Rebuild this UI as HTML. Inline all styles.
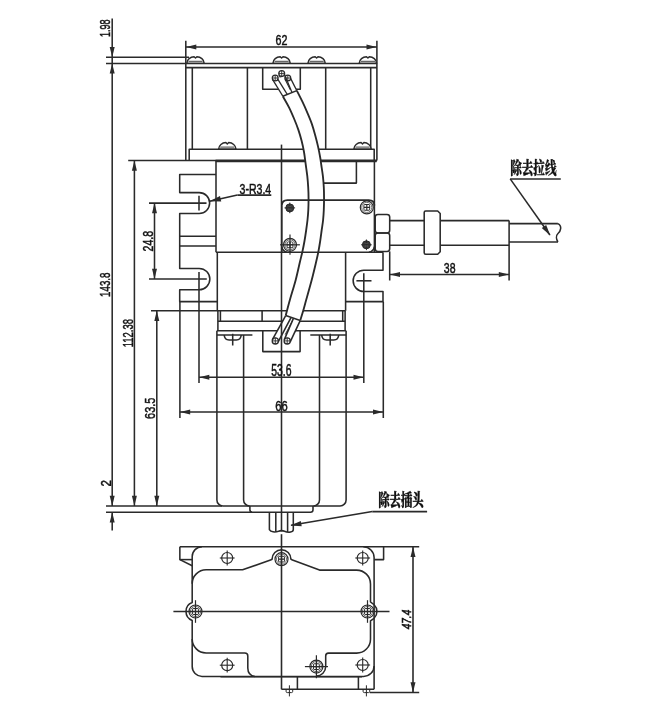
<!DOCTYPE html>
<html lang="zh">
<head>
<meta charset="utf-8">
<title>除去拉线 除去插头</title>
<style>
html,body{margin:0;padding:0;background:#fff;}
body{width:650px;height:717px;overflow:hidden;}
svg{display:block;will-change:transform;filter:grayscale(1);}
svg line,svg path,svg rect,svg circle{stroke:#2a2a2a;stroke-width:1.55;fill:none;stroke-linecap:butt;stroke-linejoin:round;}
svg polygon.a{fill:#2a2a2a;stroke:none;}
svg text.t{font-family:"Liberation Sans","DejaVu Sans",sans-serif;fill:#111;stroke:#111;stroke-width:0.5;}
svg text.c{font-family:"Liberation Serif","Noto Serif CJK SC","Noto Sans CJK SC",serif;font-weight:900;fill:#111;stroke:#111;stroke-width:0.3;}
svg text.bi{font-family:"Liberation Sans","DejaVu Sans",sans-serif;font-style:italic;fill:#111;stroke:#111;stroke-width:0.6;}
</style>
</head>
<body>
<svg width="650" height="717" viewBox="0 0 650 717">
<rect x="0" y="0" width="650" height="717" style="fill:#fff;stroke:none"/>
<line x1="112.2" y1="18.4" x2="112.2" y2="505.9"/>
<line x1="112.2" y1="512.3" x2="112.2" y2="530.4"/>
<polygon class="a" points="112.20,57.30 109.70,47.10 114.70,47.10"/>
<polygon class="a" points="112.20,63.40 114.70,73.60 109.70,73.60"/>
<polygon class="a" points="112.20,505.90 109.70,495.70 114.70,495.70"/>
<polygon class="a" points="112.20,512.30 114.70,522.50 109.70,522.50"/>
<line x1="106" y1="57.3" x2="189" y2="57.3"/>
<line x1="106" y1="63.4" x2="186" y2="63.4"/>
<line x1="106" y1="505.9" x2="222" y2="505.9"/>
<line x1="106" y1="512.3" x2="252" y2="512.3"/>
<text class="t" transform="translate(110.35,37.10) rotate(-90) scale(0.622,1)" font-size="14.55">1.98</text>
<text class="t" transform="translate(110.45,296.90) rotate(-90) scale(0.670,1)" font-size="14.55">143.8</text>
<text class="t" transform="translate(110.90,486.40) rotate(-90) scale(0.765,1)" font-size="15.04">2</text>
<line x1="128.2" y1="160.5" x2="216" y2="160.5"/>
<line x1="134.4" y1="160.5" x2="134.4" y2="505.9"/>
<polygon class="a" points="134.40,160.50 136.90,170.70 131.90,170.70"/>
<polygon class="a" points="134.40,505.90 131.90,495.70 136.90,495.70"/>
<text class="t" transform="translate(132.86,347.20) rotate(-90) scale(0.662,1)" font-size="14.27">112.38</text>
<line x1="151" y1="310.75" x2="218" y2="310.75"/>
<line x1="156.8" y1="310.75" x2="156.8" y2="505.9"/>
<polygon class="a" points="156.80,310.75 159.30,320.95 154.30,320.95"/>
<polygon class="a" points="156.80,505.90 154.30,495.70 159.30,495.70"/>
<text class="t" transform="translate(155.35,418.90) rotate(-90) scale(0.731,1)" font-size="14.97">63.5</text>
<line x1="149" y1="203.1" x2="206.5" y2="203.1"/>
<line x1="149" y1="279" x2="206.8" y2="279"/>
<line x1="154.5" y1="203.1" x2="154.5" y2="279"/>
<polygon class="a" points="154.50,203.10 157.00,213.30 152.00,213.30"/>
<polygon class="a" points="154.50,279.00 152.00,268.80 157.00,268.80"/>
<text class="t" transform="translate(152.85,251.40) rotate(-90) scale(0.704,1)" font-size="14.97">24.8</text>
<line x1="185.8" y1="40.8" x2="185.8" y2="160.4"/>
<path d="M376.9,40.8 V159.6 Q376.9,161.2 375.3,161.2"/>
<line x1="186" y1="46.9" x2="376.9" y2="46.9"/>
<polygon class="a" points="186.10,46.90 196.30,44.40 196.30,49.40"/>
<polygon class="a" points="376.70,46.90 366.50,49.40 366.50,44.40"/>
<text class="t" transform="translate(275.50,45.45) scale(0.702,1)" font-size="15.25">62</text>
<line x1="185.8" y1="63.5" x2="376.9" y2="63.5"/>
<line x1="185.8" y1="67.6" x2="376.9" y2="67.6"/>
<line x1="192.3" y1="67.6" x2="192.3" y2="149.3"/>
<line x1="247.4" y1="67.6" x2="247.4" y2="149.3"/>
<line x1="325.7" y1="67.6" x2="325.7" y2="149.3"/>
<line x1="370.7" y1="67.6" x2="370.7" y2="149.3"/>
<path d="M189.2,160 V149.3 H374.2 V160"/>
<line x1="215.7" y1="160.8" x2="376.6" y2="160.8" style="stroke-width:2.8;"/>
<path d="M186.8,63.2 C187.10000000000002,59.6 190.20000000000002,56.800000000000004 194.1,56.7 L195.5,58.1 L196.9,56.7 C200.8,56.800000000000004 203.9,59.6 204.20000000000002,63.2 Z" style="stroke-width:1.4;fill:#fff;"/>
<line x1="188.4" y1="61.300000000000004" x2="202.60000000000002" y2="61.300000000000004" style="stroke-width:0.9;"/>
<path d="M272.9,63.2 C273.2,59.6 276.29999999999995,56.800000000000004 280.2,56.7 L281.59999999999997,58.1 L282.99999999999994,56.7 C286.9,56.800000000000004 289.99999999999994,59.6 290.29999999999995,63.2 Z" style="stroke-width:1.4;fill:#fff;"/>
<line x1="274.5" y1="61.300000000000004" x2="288.69999999999993" y2="61.300000000000004" style="stroke-width:0.9;"/>
<path d="M307.9,63.2 C308.2,59.6 311.29999999999995,56.800000000000004 315.2,56.7 L316.59999999999997,58.1 L317.99999999999994,56.7 C321.9,56.800000000000004 324.99999999999994,59.6 325.29999999999995,63.2 Z" style="stroke-width:1.4;fill:#fff;"/>
<line x1="309.5" y1="61.300000000000004" x2="323.69999999999993" y2="61.300000000000004" style="stroke-width:0.9;"/>
<path d="M359.2,63.2 C359.5,59.6 362.59999999999997,56.800000000000004 366.5,56.7 L367.9,58.1 L369.29999999999995,56.7 C373.2,56.800000000000004 376.29999999999995,59.6 376.59999999999997,63.2 Z" style="stroke-width:1.4;fill:#fff;"/>
<line x1="360.8" y1="61.300000000000004" x2="374.99999999999994" y2="61.300000000000004" style="stroke-width:0.9;"/>
<path d="M218.6,149.0 C218.9,145.4 222.0,142.6 225.89999999999998,142.5 L227.29999999999998,143.9 L228.7,142.5 C232.6,142.6 235.7,145.4 236.0,149.0 Z" style="stroke-width:1.4;fill:#fff;"/>
<line x1="220.2" y1="147.1" x2="234.4" y2="147.1" style="stroke-width:0.9;"/>
<path d="M353.8,149.0 C354.1,145.4 357.2,142.6 361.1,142.5 L362.5,143.9 L363.9,142.5 C367.8,142.6 370.9,145.4 371.2,149.0 Z" style="stroke-width:1.4;fill:#fff;"/>
<line x1="355.40000000000003" y1="147.1" x2="369.59999999999997" y2="147.1" style="stroke-width:0.9;"/>
<path d="M262.7,67.6 V89.3 H300.3 V67.6"/>
<line x1="281.5" y1="144.6" x2="281.5" y2="161"/>
<line x1="217.3" y1="310.75" x2="345.5" y2="310.75"/>
<line x1="217.9" y1="321.2" x2="345.1" y2="321.2"/>
<line x1="216.9" y1="330.7" x2="346.1" y2="330.7"/>
<line x1="220.4" y1="310.75" x2="220.4" y2="321.2"/>
<line x1="262.1" y1="310.75" x2="262.1" y2="321.2"/>
<line x1="342.7" y1="310.75" x2="342.7" y2="321.2"/>
<line x1="217.9" y1="310.75" x2="217.9" y2="330.7"/>
<line x1="345.1" y1="310.75" x2="345.1" y2="330.7"/>
<line x1="216.9" y1="335" x2="252.4" y2="335"/>
<line x1="310.3" y1="335" x2="346.1" y2="335"/>
<path d="M224.2,335 Q224.5,339.9 229.1,339.9 H236.29999999999998 Q240.89999999999998,339.9 241.2,335"/>
<line x1="232.7" y1="333.8" x2="232.7" y2="345.5"/>
<path d="M321.7,335 Q322.0,339.9 326.59999999999997,339.9 H333.8 Q338.4,339.9 338.7,335"/>
<line x1="330.2" y1="333.8" x2="330.2" y2="345.5"/>
<path d="M262.8,330.7 V351.6 H300.1 V330.7"/>
<path d="M216.9,330.7 V499.9 A6,6 0 0 0 222.9,505.9 H340.1 A6,6 0 0 0 346.1,499.9 V330.7"/>
<path d="M243.6,335 V499.9 A6,6 0 0 0 249.6,505.9"/>
<path d="M319.5,335 V499.9 A6,6 0 0 1 313.5,505.9"/>
<path d="M249.9,505.9 V509.8 Q249.9,512.3 252.4,512.3 H310.5 Q313,512.3 313,509.8 V505.9"/>
<path d="M269.4,512.2 V529.6 Q270.5,531.6 273,531.8 Q275.8,532.2 278.5,531.2 Q281.5,530 284.5,531.2 Q287.6,532.6 290.5,532 Q293.3,531.4 293.3,529.4 V512.2"/>
<line x1="275.8" y1="512.2" x2="275.8" y2="531.8"/>
<line x1="287.6" y1="512.2" x2="287.6" y2="532"/>
<line x1="199" y1="272" x2="199" y2="383"/>
<line x1="363.8" y1="273.3" x2="363.8" y2="383"/>
<line x1="199" y1="377.2" x2="363.8" y2="377.2"/>
<polygon class="a" points="199.10,377.20 209.30,374.70 209.30,379.70"/>
<polygon class="a" points="363.70,377.20 353.50,379.70 353.50,374.70"/>
<line x1="179.9" y1="301.6" x2="179.9" y2="418"/>
<line x1="383.3" y1="301.6" x2="383.3" y2="418"/>
<line x1="179.9" y1="412.0" x2="383.3" y2="412.0"/>
<polygon class="a" points="180.00,412.00 190.20,409.50 190.20,414.50"/>
<polygon class="a" points="383.20,412.00 373.00,414.50 373.00,409.50"/>
<path d="M282.80,96.20 C283.83,98.05 287.13,103.58 289.00,107.30 C290.87,111.02 292.45,114.78 294.00,118.50 C295.55,122.22 297.03,125.88 298.30,129.60 C299.57,133.32 300.65,137.07 301.60,140.80 C302.55,144.53 303.30,147.97 304.00,152.00 C304.70,156.03 305.25,160.97 305.80,165.00 C306.35,169.03 306.90,172.48 307.30,176.20 C307.70,179.92 307.99,183.67 308.20,187.30 C308.41,190.93 308.53,194.22 308.55,198.00 C308.57,201.78 308.48,206.33 308.30,210.00 C308.12,213.67 307.85,216.67 307.50,220.00 C307.15,223.33 306.70,226.50 306.20,230.00 C305.70,233.50 305.15,237.32 304.50,241.00 C303.85,244.68 303.07,248.60 302.30,252.10 C301.53,255.60 301.00,257.35 299.90,262.00 C298.80,266.65 297.38,273.67 295.70,280.00 C294.02,286.33 291.52,294.07 289.85,300.00 C288.18,305.93 286.39,313.00 285.70,315.60 L300.20,320.60 C300.70,318.96 302.21,314.18 303.20,310.75 C304.19,307.32 304.73,305.12 306.15,300.00 C307.57,294.88 310.04,286.33 311.70,280.00 C313.36,273.67 315.00,266.65 316.10,262.00 C317.20,257.35 317.62,255.60 318.30,252.10 C318.98,248.60 319.63,244.68 320.20,241.00 C320.77,237.32 321.22,233.50 321.70,230.00 C322.18,226.50 322.75,223.33 323.10,220.00 C323.45,216.67 323.64,213.67 323.80,210.00 C323.96,206.33 324.05,201.78 324.05,198.00 C324.05,194.22 323.99,190.93 323.80,187.30 C323.61,183.67 323.32,179.92 322.90,176.20 C322.48,172.48 321.75,168.12 321.30,165.00 C320.85,161.88 320.75,160.60 320.20,157.50 C319.65,154.40 318.83,150.12 318.00,146.40 C317.17,142.68 316.22,138.92 315.20,135.20 C314.18,131.48 313.20,127.82 311.90,124.10 C310.60,120.38 308.98,116.63 307.40,112.90 C305.82,109.17 304.17,105.42 302.40,101.70 C300.63,97.98 297.73,92.45 296.80,90.60 Z" style="fill:#fff;stroke:none"/>
<path d="M282.8,96.2 L272.3,79.3 L275,75 L279,74 L281.7,70.5 L285,72 L287.7,75 L290.8,77.5 L296.8,90.6 Z" style="fill:#fff;stroke:none"/>
<path d="M285.7,315.6 L272.2,339.6 L275.3,344.2 L281.2,341 L287.2,344.2 L290.4,341.5 L300.2,320.6 Z" style="fill:#fff;stroke:none"/>
<line x1="216" y1="161" x2="216" y2="252.2"/>
<line x1="217.3" y1="252.2" x2="217.3" y2="310.75"/>
<line x1="216" y1="252.2" x2="383.0" y2="252.2"/>
<line x1="374.4" y1="161" x2="374.4" y2="252.2"/>
<line x1="281.5" y1="161" x2="281.5" y2="531.6"/>
<path d="M356.4,161 V183.1 H323.8"/>
<path d="M281.8,205.6 Q281.8,200.0 287.4,200.0 H368.8 Q374.4,200.0 374.4,205.6" style="stroke-width:1.75;"/>
<line x1="281.8" y1="205.6" x2="281.8" y2="252.2"/>
<path d="M368.9,252.2 Q373.6,251.4 374.4,246.6"/>
<path d="M281.8,246.6 Q282.5,251.4 287.2,252.2"/>
<circle cx="289.8" cy="207.9" r="4.0" style="stroke-width:1.0;fill:#3c3c3c;"/>
<line x1="284.5" y1="207.9" x2="295.1" y2="207.9" style="stroke-width:1.0;"/>
<line x1="289.8" y1="202.6" x2="289.8" y2="213.20000000000002" style="stroke-width:1.0;"/>
<line x1="288.2" y1="209.1" x2="291.40000000000003" y2="209.1" style="stroke-width:0.5;stroke:#777;"/>
<line x1="288.8" y1="206.6" x2="291.0" y2="206.6" style="stroke-width:0.5;stroke:#666;"/>
<circle cx="366.8" cy="207.4" r="6.5" style="stroke-width:1.2;fill:#fff;"/>
<circle cx="366.8" cy="207.4" r="5.07" style="stroke:#555;stroke-width:0.85;fill:none"/>
<rect x="363.40" y="204.00" width="6.8" height="6.8" rx="1.7" style="fill:#2a2a2a;stroke:none"/>
<rect x="364.35" y="204.95" width="1.9" height="1.9" rx="0.3" style="fill:#fff;stroke:none"/>
<rect x="364.35" y="207.95" width="1.9" height="1.9" rx="0.3" style="fill:#fff;stroke:none"/>
<rect x="367.35" y="204.95" width="1.9" height="1.9" rx="0.3" style="fill:#fff;stroke:none"/>
<rect x="367.35" y="207.95" width="1.9" height="1.9" rx="0.3" style="fill:#fff;stroke:none"/>
<circle cx="290.0" cy="244.8" r="6.5" style="stroke-width:1.2;fill:#fff;"/>
<circle cx="290.0" cy="244.8" r="5.07" style="stroke:#555;stroke-width:0.85;fill:none"/>
<rect x="286.60" y="241.40" width="6.8" height="6.8" rx="1.7" style="fill:#2a2a2a;stroke:none"/>
<rect x="287.55" y="242.35" width="1.9" height="1.9" rx="0.3" style="fill:#fff;stroke:none"/>
<rect x="287.55" y="245.35" width="1.9" height="1.9" rx="0.3" style="fill:#fff;stroke:none"/>
<rect x="290.55" y="242.35" width="1.9" height="1.9" rx="0.3" style="fill:#fff;stroke:none"/>
<rect x="290.55" y="245.35" width="1.9" height="1.9" rx="0.3" style="fill:#fff;stroke:none"/>
<line x1="290.0" y1="234.4" x2="290.0" y2="254.7" style="stroke-width:1.2;"/>
<line x1="280.1" y1="244.8" x2="299.9" y2="244.8" style="stroke-width:1.2;"/>
<circle cx="366.4" cy="244.8" r="4.0" style="stroke-width:1.0;fill:#3c3c3c;"/>
<line x1="361.09999999999997" y1="244.8" x2="371.7" y2="244.8" style="stroke-width:1.0;"/>
<line x1="366.4" y1="239.5" x2="366.4" y2="250.10000000000002" style="stroke-width:1.0;"/>
<line x1="364.79999999999995" y1="246.0" x2="368.0" y2="246.0" style="stroke-width:0.5;stroke:#777;"/>
<line x1="365.4" y1="243.5" x2="367.59999999999997" y2="243.5" style="stroke-width:0.5;stroke:#666;"/>
<path d="M377.9,214.4 H387 Q389.7,214.4 389.7,217.1 V230.20000000000002 Q389.7,232.9 387,232.9 H377.9 Q375.2,232.9 375.2,230.20000000000002 V217.1 Q375.2,214.4 377.9,214.4 Z"/>
<path d="M377.9,232.9 H387 Q389.7,232.9 389.7,235.6 V248.70000000000002 Q389.7,251.4 387,251.4 H377.9 Q375.2,251.4 375.2,248.70000000000002 V235.6 Q375.2,232.9 377.9,232.9 Z"/>
<line x1="389.7" y1="220.6" x2="424.2" y2="220.6"/>
<line x1="440.2" y1="220.6" x2="509.1" y2="220.6"/>
<line x1="389.7" y1="245.2" x2="424.2" y2="245.2"/>
<line x1="440.2" y1="245.2" x2="509.1" y2="245.2"/>
<path d="M425.7,211 H437.7 L440.2,213.5 V251.8 L437.7,254.3 H425.7 Q424.2,254.3 424.2,252.8 V212.5 Q424.2,211 425.7,211 Z"/>
<line x1="509.1" y1="220.6" x2="509.1" y2="280.5"/>
<line x1="509.1" y1="223.6" x2="557.9" y2="223.6"/>
<line x1="509.1" y1="242.0" x2="557.9" y2="242.0"/>
<path d="M557.9,223.6 C562.6,226 560.5,231.5 558,233.5 C555.6,235.6 556.4,239.5 557.9,242.0"/>
<line x1="389.7" y1="251.4" x2="389.7" y2="280.5"/>
<line x1="389.7" y1="274.5" x2="509.1" y2="274.5"/>
<polygon class="a" points="389.80,274.50 400.00,272.00 400.00,277.00"/>
<polygon class="a" points="509.00,274.50 498.80,277.00 498.80,272.00"/>
<text class="t" transform="translate(443.80,272.95) scale(0.703,1)" font-size="14.97">38</text>
<path d="M216,174.5 H179.7 V192.6 H199.2 A10.45,10.45 0 0 1 199.2,213.5 H179.7 V268.4 H199.2 A10.65,10.65 0 0 1 199.2,289.7 H179.7 V301.6 H217.3"/>
<line x1="179.7" y1="236.3" x2="216" y2="236.3"/>
<line x1="179.7" y1="246" x2="216" y2="246"/>
<line x1="199" y1="195.7" x2="199" y2="210.5"/>
<path d="M383.0,252.2 V270.2 H363.8 A10.65,10.65 0 0 0 363.8,291.5 H383.0 V301.6 H345.5"/>
<line x1="345.6" y1="252.2" x2="345.6" y2="310.75"/>
<line x1="356.4" y1="280.8" x2="371.5" y2="280.8"/>
<line x1="209.6" y1="201.2" x2="237.4" y2="195.1"/>
<line x1="237.4" y1="195.1" x2="271.3" y2="195.1"/>
<polygon class="a" points="209.50,201.30 220.03,196.12 221.24,201.59"/>
<text class="t" transform="translate(239.50,193.55) scale(0.701,1)" font-size="15.11">3-R3.4</text>
<text class="t" transform="translate(271.20,375.84) scale(0.665,1)" font-size="15.68">53.6</text>
<text class="t" transform="translate(275.30,410.84) scale(0.718,1)" font-size="15.54">66</text>
<path d="M282.80,96.20 C283.83,98.05 287.13,103.58 289.00,107.30 C290.87,111.02 292.45,114.78 294.00,118.50 C295.55,122.22 297.03,125.88 298.30,129.60 C299.57,133.32 300.65,137.07 301.60,140.80 C302.55,144.53 303.30,147.97 304.00,152.00 C304.70,156.03 305.25,160.97 305.80,165.00 C306.35,169.03 306.90,172.48 307.30,176.20 C307.70,179.92 307.99,183.67 308.20,187.30 C308.41,190.93 308.53,194.22 308.55,198.00 C308.57,201.78 308.48,206.33 308.30,210.00 C308.12,213.67 307.85,216.67 307.50,220.00 C307.15,223.33 306.70,226.50 306.20,230.00 C305.70,233.50 305.15,237.32 304.50,241.00 C303.85,244.68 303.07,248.60 302.30,252.10 C301.53,255.60 301.00,257.35 299.90,262.00 C298.80,266.65 297.38,273.67 295.70,280.00 C294.02,286.33 291.52,294.07 289.85,300.00 C288.18,305.93 286.39,313.00 285.70,315.60" style="stroke-width:1.85;"/>
<path d="M296.80,90.60 C297.73,92.45 300.63,97.98 302.40,101.70 C304.17,105.42 305.82,109.17 307.40,112.90 C308.98,116.63 310.60,120.38 311.90,124.10 C313.20,127.82 314.18,131.48 315.20,135.20 C316.22,138.92 317.17,142.68 318.00,146.40 C318.83,150.12 319.65,154.40 320.20,157.50 C320.75,160.60 320.85,161.88 321.30,165.00 C321.75,168.12 322.48,172.48 322.90,176.20 C323.32,179.92 323.61,183.67 323.80,187.30 C323.99,190.93 324.05,194.22 324.05,198.00 C324.05,201.78 323.96,206.33 323.80,210.00 C323.64,213.67 323.45,216.67 323.10,220.00 C322.75,223.33 322.18,226.50 321.70,230.00 C321.22,233.50 320.77,237.32 320.20,241.00 C319.63,244.68 318.98,248.60 318.30,252.10 C317.62,255.60 317.20,257.35 316.10,262.00 C315.00,266.65 313.36,273.67 311.70,280.00 C310.04,286.33 307.57,294.88 306.15,300.00 C304.73,305.12 304.19,307.32 303.20,310.75 C302.21,314.18 300.70,318.96 300.20,320.60" style="stroke-width:1.85;"/>
<line x1="285.7" y1="315.6" x2="300.2" y2="320.6"/>
<line x1="282.8" y1="96.2" x2="296.8" y2="90.6"/>
<circle cx="275.2" cy="78" r="2.9" style="stroke-width:1.3;"/>
<line x1="272.3" y1="78" x2="278.09999999999997" y2="78" style="stroke-width:0.9;"/>
<line x1="275.2" y1="75.1" x2="275.2" y2="80.9" style="stroke-width:0.9;"/>
<circle cx="281.7" cy="73.6" r="2.9" style="stroke-width:1.3;"/>
<line x1="278.8" y1="73.6" x2="284.59999999999997" y2="73.6" style="stroke-width:0.9;"/>
<line x1="281.7" y1="70.69999999999999" x2="281.7" y2="76.5" style="stroke-width:0.9;"/>
<circle cx="287.8" cy="78" r="2.9" style="stroke-width:1.3;"/>
<line x1="284.90000000000003" y1="78" x2="290.7" y2="78" style="stroke-width:0.9;"/>
<line x1="287.8" y1="75.1" x2="287.8" y2="80.9" style="stroke-width:0.9;"/>
<line x1="272.5" y1="79.4" x2="282.8" y2="96.2" style="stroke-width:1.25;"/>
<line x1="277.9" y1="79.4" x2="287.4" y2="94.6" style="stroke-width:1.25;"/>
<line x1="279.0" y1="75.0" x2="280.4" y2="77.6" style="stroke-width:1.1;"/>
<line x1="284.5" y1="74.4" x2="292.0" y2="92.4" style="stroke-width:1.25;"/>
<line x1="285.2" y1="79.6" x2="290.3" y2="89.7" style="stroke-width:1.1;"/>
<line x1="290.6" y1="78.4" x2="296.8" y2="90.6" style="stroke-width:1.25;"/>
<circle cx="275.3" cy="340.9" r="3.1" style="stroke-width:1.3;"/>
<line x1="272.2" y1="340.9" x2="278.40000000000003" y2="340.9" style="stroke-width:0.9;"/>
<line x1="275.3" y1="337.79999999999995" x2="275.3" y2="344.0" style="stroke-width:0.9;"/>
<circle cx="287.2" cy="340.9" r="3.1" style="stroke-width:1.3;"/>
<line x1="284.09999999999997" y1="340.9" x2="290.3" y2="340.9" style="stroke-width:0.9;"/>
<line x1="287.2" y1="337.79999999999995" x2="287.2" y2="344.0" style="stroke-width:0.9;"/>
<line x1="285.7" y1="315.6" x2="272.4" y2="339.6"/>
<line x1="291.0" y1="317.6" x2="278.3" y2="341.6"/>
<line x1="293.3" y1="318.6" x2="284.3" y2="339.6"/>
<line x1="300.2" y1="320.6" x2="290.2" y2="341.8"/>
<line x1="292.6" y1="320.4" x2="285.2" y2="334.6" style="stroke-width:0.9;"/>
<text class="c" transform="translate(510.20,173.91) scale(0.684,1)" font-size="16.93">除去拉线</text>
<line x1="510.2" y1="178.9" x2="560.8" y2="178.9"/>
<line x1="510.2" y1="178.9" x2="549.9" y2="235.0"/>
<polygon class="a" points="550.30,235.50 541.75,228.07 546.17,224.96"/>
<text class="c" transform="translate(378.20,506.04) scale(0.657,1)" font-size="17.32">除去插头</text>
<line x1="372.3" y1="511.6" x2="427.1" y2="511.6"/>
<line x1="372.3" y1="511.6" x2="291" y2="525.3"/>
<polygon class="a" points="290.40,525.40 300.80,520.90 301.70,526.23"/>
<line x1="179.85" y1="546.8" x2="419.2" y2="546.8" style="stroke-width:1.5;"/>
<path d="M179.85,546.8 V559.6 L192.2,565.8"/>
<line x1="179.85" y1="559.6" x2="192.2" y2="559.6"/>
<path d="M374.1,559.6 H383.6 V546.8"/>
<path d="M202.0,546.8 A9.8,9.8 0 0 0 192.2,556.5999999999999 V602.6 A9.5,9.5 0 0 0 192.2,620.4 V666.6 A9.8,9.8 0 0 0 202.0,676.4 H363.6 A10.5,10.5 0 0 0 374.1,665.9"/>
<path d="M374.1,689.2 V557.5999999999999 A10.8,10.8 0 0 0 363.3,546.8"/>
<path d="M374.1,604.7 A9.46,9.46 0 0 1 374.1,618.2"/>
<path d="M192.2,583.7 A13.9,13.9 0 0 1 206.1,569.8 H242.6 L271.2,559.8 Q272.2,559.5 272.05,558.6"/>
<path d="M290.95,558.6 Q290.8,559.5 291.8,559.8 L319.5,570.1 H356.6 A13.9,13.9 0 0 1 370.5,584 V602 L374.0,604.6"/>
<path d="M374.0,618.3 L370.5,620.8 V639.2 A13.9,13.9 0 0 1 356.6,653.1 H328.5 Q325.7,653.1 325.7,655.9 V666.6 A9.4,9.4 0 0 1 316.3,676"/>
<path d="M192.2,639.0 A13.9,13.9 0 0 0 206.1,652.9 H244.8 Q247.8,652.9 247.8,655.9 V668 Q247.9,675.6 254.9,676.4"/>
<circle cx="227.2" cy="558" r="5.5" style="stroke-width:1.2;"/>
<line x1="219.79999999999998" y1="558" x2="234.6" y2="558" style="stroke-width:1.1;"/>
<line x1="227.2" y1="550.6" x2="227.2" y2="565.4" style="stroke-width:1.1;"/>
<circle cx="227.2" cy="665.2" r="5.5" style="stroke-width:1.2;"/>
<line x1="219.79999999999998" y1="665.2" x2="234.6" y2="665.2" style="stroke-width:1.1;"/>
<line x1="227.2" y1="657.8000000000001" x2="227.2" y2="672.6" style="stroke-width:1.1;"/>
<circle cx="362.7" cy="558" r="5.5" style="stroke-width:1.2;"/>
<line x1="355.3" y1="558" x2="370.09999999999997" y2="558" style="stroke-width:1.1;"/>
<line x1="362.7" y1="550.6" x2="362.7" y2="565.4" style="stroke-width:1.1;"/>
<circle cx="362.7" cy="665" r="5.5" style="stroke-width:1.2;"/>
<line x1="355.3" y1="665" x2="370.09999999999997" y2="665" style="stroke-width:1.1;"/>
<line x1="362.7" y1="657.6" x2="362.7" y2="672.4" style="stroke-width:1.1;"/>
<path d="M272.05,559.15 A9.45,9.45 0 0 1 290.95,559.15"/>
<circle cx="281.5" cy="559.15" r="6.5" style="stroke-width:1.2;fill:#fff;"/>
<circle cx="281.5" cy="559.15" r="5.07" style="stroke:#555;stroke-width:0.85;fill:none"/>
<rect x="278.10" y="555.75" width="6.8" height="6.8" rx="1.7" style="fill:#2a2a2a;stroke:none"/>
<rect x="279.05" y="556.70" width="1.9" height="1.9" rx="0.3" style="fill:#fff;stroke:none"/>
<rect x="279.05" y="559.70" width="1.9" height="1.9" rx="0.3" style="fill:#fff;stroke:none"/>
<rect x="282.05" y="556.70" width="1.9" height="1.9" rx="0.3" style="fill:#fff;stroke:none"/>
<rect x="282.05" y="559.70" width="1.9" height="1.9" rx="0.3" style="fill:#fff;stroke:none"/>
<circle cx="195.5" cy="611.5" r="6.5" style="stroke-width:1.2;fill:#fff;"/>
<circle cx="195.5" cy="611.5" r="5.07" style="stroke:#555;stroke-width:0.85;fill:none"/>
<rect x="192.10" y="608.10" width="6.8" height="6.8" rx="1.7" style="fill:#2a2a2a;stroke:none"/>
<rect x="193.05" y="609.05" width="1.9" height="1.9" rx="0.3" style="fill:#fff;stroke:none"/>
<rect x="193.05" y="612.05" width="1.9" height="1.9" rx="0.3" style="fill:#fff;stroke:none"/>
<rect x="196.05" y="609.05" width="1.9" height="1.9" rx="0.3" style="fill:#fff;stroke:none"/>
<rect x="196.05" y="612.05" width="1.9" height="1.9" rx="0.3" style="fill:#fff;stroke:none"/>
<line x1="195.5" y1="600.2" x2="195.5" y2="622.8" style="stroke-width:1.2;"/>
<circle cx="367.5" cy="611.5" r="6.5" style="stroke-width:1.2;fill:#fff;"/>
<circle cx="367.5" cy="611.5" r="5.07" style="stroke:#555;stroke-width:0.85;fill:none"/>
<rect x="364.10" y="608.10" width="6.8" height="6.8" rx="1.7" style="fill:#2a2a2a;stroke:none"/>
<rect x="365.05" y="609.05" width="1.9" height="1.9" rx="0.3" style="fill:#fff;stroke:none"/>
<rect x="365.05" y="612.05" width="1.9" height="1.9" rx="0.3" style="fill:#fff;stroke:none"/>
<rect x="368.05" y="609.05" width="1.9" height="1.9" rx="0.3" style="fill:#fff;stroke:none"/>
<rect x="368.05" y="612.05" width="1.9" height="1.9" rx="0.3" style="fill:#fff;stroke:none"/>
<line x1="367.5" y1="600.2" x2="367.5" y2="622.8" style="stroke-width:1.2;"/>
<circle cx="316.4" cy="666.6" r="6.5" style="stroke-width:1.2;fill:#fff;"/>
<circle cx="316.4" cy="666.6" r="5.07" style="stroke:#555;stroke-width:0.85;fill:none"/>
<rect x="313.00" y="663.20" width="6.8" height="6.8" rx="1.7" style="fill:#2a2a2a;stroke:none"/>
<rect x="313.95" y="664.15" width="1.9" height="1.9" rx="0.3" style="fill:#fff;stroke:none"/>
<rect x="313.95" y="667.15" width="1.9" height="1.9" rx="0.3" style="fill:#fff;stroke:none"/>
<rect x="316.95" y="664.15" width="1.9" height="1.9" rx="0.3" style="fill:#fff;stroke:none"/>
<rect x="316.95" y="667.15" width="1.9" height="1.9" rx="0.3" style="fill:#fff;stroke:none"/>
<line x1="304.9" y1="666.6" x2="328" y2="666.6" style="stroke-width:1.2;"/>
<line x1="316.4" y1="655.2" x2="316.4" y2="678.3" style="stroke-width:1.2;"/>
<line x1="220.5" y1="676.9" x2="362" y2="676.9" style="stroke-width:1.3;"/>
<line x1="173.4" y1="611.5" x2="389.5" y2="611.5" style="stroke-width:1.3;"/>
<line x1="281.5" y1="534.2" x2="281.5" y2="689.4" style="stroke-width:1.6;"/>
<line x1="281.5" y1="689.2" x2="374.1" y2="689.2"/>
<line x1="297.4" y1="676.4" x2="297.4" y2="689.2"/>
<line x1="358.4" y1="676.4" x2="358.4" y2="689.2"/>
<path d="M286.09999999999997,689.2 V691.4 Q286.09999999999997,692.6 287.29999999999995,692.6 H291.5 Q292.7,692.6 292.7,691.4 V689.2" style="stroke-width:1.0;"/>
<line x1="289.4" y1="685.3" x2="289.4" y2="696.4" style="stroke-width:1.0;"/>
<path d="M363.09999999999997,689.2 V691.4 Q363.09999999999997,692.6 364.29999999999995,692.6 H368.5 Q369.7,692.6 369.7,691.4 V689.2" style="stroke-width:1.0;"/>
<line x1="366.4" y1="685.3" x2="366.4" y2="696.4" style="stroke-width:1.0;"/>
<line x1="369.8" y1="692.4" x2="419.2" y2="692.4"/>
<line x1="413" y1="546.8" x2="413" y2="692.4" style="stroke-width:1.6;"/>
<polygon class="a" points="413.00,546.80 415.50,557.00 410.50,557.00"/>
<polygon class="a" points="413.00,692.40 410.50,682.20 415.50,682.20"/>
<text class="bi" transform="translate(410.80,629.20) rotate(-90) scale(0.730,1)" font-size="13.66">47.4</text>
</svg>
</body>
</html>
